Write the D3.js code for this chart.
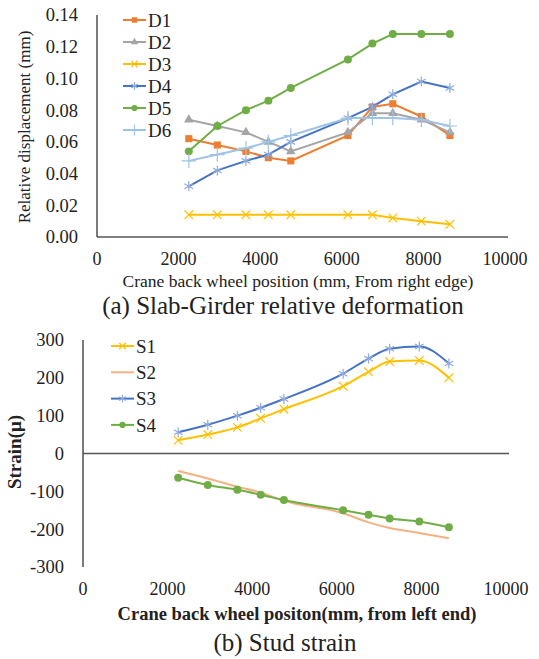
<!DOCTYPE html>
<html>
<head>
<meta charset="utf-8">
<script src="https://cdn.jsdelivr.net/npm/d3@7"></script>
<style>
body { margin: 0; background: #fff; }
</style>
</head>
<body>
<svg></svg>
<script>
const width = 539;
const height = 659;

// wheel positions (mm)
const positions = [2250, 2950, 3650, 4200, 4750, 6150, 6750, 7250, 7950, 8650];

// (a) relative displacement (mm)
const D1 = [0.062, 0.058, 0.054, 0.050, 0.048, 0.064, 0.082, 0.084, 0.076, 0.064];
const D2 = [0.074, 0.070, 0.066, 0.060, 0.054, 0.066, 0.078, 0.078, 0.074, 0.066];
const D3 = [0.014, 0.014, 0.014, 0.014, 0.014, 0.014, 0.014, 0.012, 0.010, 0.008];
const D4 = [0.032, 0.042, 0.048, 0.052, 0.060, 0.075, 0.082, 0.090, 0.098, 0.094];
const D5 = [0.054, 0.070, 0.080, 0.086, 0.094, 0.112, 0.122, 0.128, 0.128, 0.128];
const D6 = [0.048, 0.052, 0.056, 0.060, 0.064, 0.075, 0.075, 0.075, 0.074, 0.070];

// (b) stud strain
const S1 = [35, 50, 69, 93, 117, 178, 216, 243, 246, 200];
const S2 = [-46, -66, -88, -103, -125, -158, -182, -197, -210, -224];
const S3 = [56, 76, 100, 121, 144, 211, 251, 277, 283, 238];
const S4 = [-64, -83, -96, -109, -123, -150, -162, -172, -180, -195];

const xTicks = [0, 2000, 4000, 6000, 8000, 10000];
const yTicksA = [0, 0.02, 0.04, 0.06, 0.08, 0.10, 0.12, 0.14];
const yTicksB = [-300, -200, -100, 0, 100, 200, 300];

const seriesA = [
  {name: 'D1', values: D1, color: '#ED7D31', marker: 'square'},
  {name: 'D2', values: D2, color: '#A5A5A5', marker: 'triangle'},
  {name: 'D3', values: D3, color: '#FFC000', marker: 'times'},
  {name: 'D4', values: D4, color: '#4472C4', marker: 'star', mcolor: '#8FAADC'},
  {name: 'D5', values: D5, color: '#70AD47', marker: 'circle'},
  {name: 'D6', values: D6, color: '#9DC3E6', marker: 'plus'}
];
const seriesB = [
  {name: 'S1', values: S1, color: '#FFC000', marker: 'times'},
  {name: 'S2', values: S2, color: '#F4B183', marker: 'none'},
  {name: 'S3', values: S3, color: '#4472C4', marker: 'star', mcolor: '#8FAADC'},
  {name: 'S4', values: S4, color: '#70AD47', marker: 'circle'}
];

const svg = d3.select('svg').attr('width', width).attr('height', height)
  .attr('font-family', "'Liberation Serif', 'Times New Roman', 'DejaVu Serif', serif")
  .attr('fill', '#222');
svg.append('rect').attr('width', width).attr('height', height).attr('fill', '#fff');

function drawMarker(g, type, x, y, color, k) {
  const sym = {
    square: [d3.symbolSquare, 50, true],
    triangle: [d3.symbolTriangle, 40, true],
    circle: [d3.symbolCircle, 50, true],
    times: [d3.symbolTimes, 50, false],
    plus: [d3.symbolPlus, 70, false],
    star: [d3.symbolAsterisk, 70, false]
  }[type];
  if (!sym) return;
  g.append('path')
    .attr('transform', `translate(${x},${y})`)
    .attr('d', d3.symbol().type(sym[0]).size(sym[1] * k)())
    .attr('fill', sym[2] ? color : 'none')
    .attr('stroke', color)
    .attr('stroke-width', sym[2] ? 0 : 1.2);
}

function drawChart(opt) {
  const x = d3.scaleLinear().domain([0, 10000]).range(opt.xRange);
  const y = d3.scaleLinear().domain(opt.yDomain).range(opt.yRange);
  const g = svg.append('g');

  // axes lines
  g.append('line').attr('x1', x(0)).attr('x2', x(0))
    .attr('y1', y(opt.yDomain[1])).attr('y2', y(opt.yDomain[0]))
    .attr('stroke', '#333').attr('stroke-width', 1.3);
  g.append('line').attr('x1', x(0)).attr('x2', x(10000) + 3)
    .attr('y1', y(0)).attr('y2', y(0))
    .attr('stroke', '#555').attr('stroke-width', 1.3);

  g.selectAll('.ytick').data(opt.yTicks).enter().append('text')
    .attr('x', x(0) - 19).attr('y', d => y(d)).attr('dy', '0.35em')
    .attr('text-anchor', 'end').style('font-size', '18.5px')
    .text(opt.yFormat);
  g.selectAll('.xtick').data(xTicks).enter().append('text')
    .attr('x', d => x(d)).attr('y', opt.xLabelY).attr('dy', '0.35em')
    .attr('text-anchor', 'middle').style('font-size', '18px')
    .text(d => d);

  const line = d3.line().x((d, i) => x(positions[i])).y(d => y(d)).curve(opt.curve);
  opt.series.forEach(s => {
    g.append('path').attr('d', line(s.values))
      .attr('fill', 'none').attr('stroke', s.color).attr('stroke-width', 2);
    s.values.forEach((v, i) => drawMarker(g, s.marker, x(positions[i]), y(v), s.mcolor || s.color, 1));
  });

  // legend
  opt.series.forEach((s, i) => {
    const ly = opt.legend.y + i * opt.legend.dy;
    g.append('line').attr('x1', opt.legend.x).attr('x2', opt.legend.x + 23)
      .attr('y1', ly).attr('y2', ly).attr('stroke', s.color).attr('stroke-width', 2);
    drawMarker(g, s.marker, opt.legend.x + 11.5, ly, s.mcolor || s.color, 0.6);
    g.append('text').attr('x', opt.legend.x + 25).attr('y', ly).attr('dy', '0.35em')
      .style('font-size', '19px').text(s.name);
  });

  g.append('text')
    .attr('transform', `translate(${opt.yTitle.x},${opt.yTitle.y}) rotate(-90)`)
    .attr('text-anchor', 'middle').attr('dy', '0.35em')
    .style('font-size', opt.yTitle.size).style('font-weight', opt.bold ? 'bold' : 'normal')
    .text(opt.yTitle.text);
  g.append('text').attr('x', opt.xTitle.x).attr('y', opt.xTitle.y).attr('dy', '0.35em')
    .attr('text-anchor', 'middle').style('font-size', opt.xTitle.size)
    .style('font-weight', opt.bold ? 'bold' : 'normal')
    .text(opt.xTitle.text);
  g.append('text').attr('x', opt.caption.x).attr('y', opt.caption.y).attr('dy', '0.35em')
    .attr('text-anchor', 'middle').style('font-size', '25px')
    .text(opt.caption.text);
}

drawChart({
  xRange: [97, 505], yDomain: [0, 0.14], yRange: [237, 15],
  yTicks: yTicksA, yFormat: d => d.toFixed(2), xLabelY: 259,
  series: seriesA, curve: d3.curveLinear,
  legend: {x: 123, y: 20, dy: 22},
  yTitle: {x: 24, y: 127, size: '17px', text: 'Relative displacement (mm)'},
  xTitle: {x: 298, y: 281, size: '17.5px', text: 'Crane back wheel position (mm, From right edge)'},
  caption: {x: 283, y: 305, text: '(a) Slab-Girder relative deformation'},
  bold: false
});

drawChart({
  xRange: [83, 506], yDomain: [-300, 300], yRange: [567, 340],
  yTicks: yTicksB, yFormat: d => d, xLabelY: 589,
  series: seriesB, curve: d3.curveMonotoneX,
  legend: {x: 111, y: 346, dy: 26.3},
  yTitle: {x: 14, y: 452, size: '19px', text: 'Strain(μ)'},
  xTitle: {x: 297, y: 614, size: '18.5px', text: 'Crane back wheel positon(mm, from left end)'},
  caption: {x: 285, y: 642, text: '(b) Stud strain'},
  bold: true
});
</script>
</body>
</html>
